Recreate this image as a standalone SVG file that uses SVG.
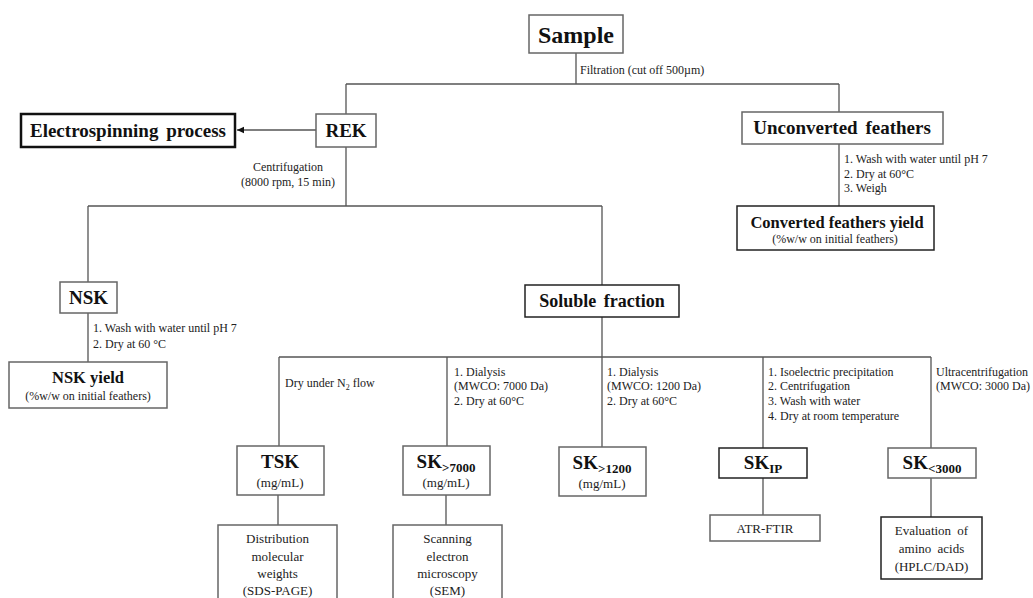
<svg xmlns="http://www.w3.org/2000/svg" width="1033" height="598" viewBox="0 0 1033 598">
<defs>
<style>
.bx{fill:#fff;stroke:#666;stroke-width:1.5}
.bk{fill:#fff;stroke:#222;stroke-width:1.5}
.ln{stroke:#555;stroke-width:1.3;fill:none}
.t{font-family:"Liberation Serif","Times New Roman",serif;fill:#222}
.b{font-weight:bold;fill:#111}
.s{font-size:12px}
.m{font-size:13px}
.c{text-anchor:middle}
</style>
<marker id="ah" markerWidth="8" markerHeight="8" refX="7" refY="4" orient="auto" markerUnits="userSpaceOnUse">
<path d="M0,0.8 L7,4 L0,7.2 Z" fill="#111"/>
</marker>
</defs>
<rect width="1033" height="598" fill="#fff"/>

<g id="connectors">
<path class="ln" d="M576,53 V84 M346,84 H839 M346,84 V114 M839,84 V112 M839,144 V206"/>
<path class="ln" d="M316,130 H237" marker-end="url(#ah)"/>
<path class="ln" d="M346,147 V206 M88,206 H602 M88,206 V282 M88,313 V362 M602,206 V285 M602,317 V357"/>
<path class="ln" d="M279,357 H931 M279,357 V446 M447,357 V446 M602,357 V447 M763,357 V448 M931,357 V448"/>
<path class="ln" d="M278,495 V525 M446,495 V525 M763,478 V515 M931,478 V517"/>
<text class="t s" x="580" y="74">Filtration (cut off 500µm)</text>
<text class="t s c" x="288" y="171">Centrifugation</text>
<text class="t s c" x="288" y="186">(8000 rpm, 15 min)</text>
<text class="t s" x="844" y="163">1. Wash with water until pH 7</text>
<text class="t s" x="844" y="178">2. Dry at 60°C</text>
<text class="t s" x="844" y="192">3. Weigh</text>
<text class="t s" x="93" y="332">1. Wash with water until pH 7</text>
<text class="t s" x="93" y="348">2. Dry at 60 °C</text>
<text class="t s" x="285" y="387">Dry under N<tspan font-size="8" dy="3">2</tspan><tspan dy="-3"> flow</tspan></text>
<text class="t s" x="454" y="376">1. Dialysis</text>
<text class="t s" x="454" y="390">(MWCO: 7000 Da)</text>
<text class="t s" x="454" y="405">2. Dry at 60°C</text>
<text class="t s" x="607" y="376">1. Dialysis</text>
<text class="t s" x="607" y="390">(MWCO: 1200 Da)</text>
<text class="t s" x="607" y="405">2. Dry at 60°C</text>
<text class="t s" x="768" y="376">1. Isoelectric precipitation</text>
<text class="t s" x="768" y="390">2. Centrifugation</text>
<text class="t s" x="768" y="405">3. Wash with water</text>
<text class="t s" x="768" y="420">4. Dry at room temperature</text>
<text class="t s" x="936" y="376">Ultracentrifugation</text>
<text class="t s" x="936" y="390">(MWCO: 3000 Da)</text>
</g>

<g id="sample">
<rect class="bx" x="529" y="15" width="94" height="38"/>
<text class="t b c" x="576" y="43" font-size="24">Sample</text>
</g>
<g id="rek">
<rect class="bx" x="316" y="114" width="60" height="33"/>
<text class="t b c" x="346" y="137" font-size="19">REK</text>
</g>
<g id="electrospinning">
<rect x="21" y="114" width="214" height="33" fill="#fff" stroke="#111" stroke-width="2.5"/>
<text class="t b c" x="128" y="137" font-size="19" word-spacing="3">Electrospinning process</text>
</g>
<g id="unconverted">
<rect class="bx" x="742" y="112" width="201" height="32"/>
<text class="t b c" x="842" y="134" font-size="19" word-spacing="3">Unconverted feathers</text>
</g>
<g id="converted-yield">
<rect class="bk" x="737" y="206" width="197" height="44"/>
<text class="t b c" x="837" y="228" font-size="16.5">Converted feathers yield</text>
<text class="t s c" x="835" y="243">(%w/w on initial  feathers)</text>
</g>
<g id="nsk">
<rect class="bx" x="60" y="282" width="57" height="31"/>
<text class="t b c" x="88.5" y="304" font-size="19">NSK</text>
</g>
<g id="nsk-yield">
<rect class="bx" x="9" y="362" width="158" height="46"/>
<text class="t b c" x="88" y="383" font-size="16.5">NSK yield</text>
<text class="t s c" x="88" y="400">(%w/w on initial  feathers)</text>
</g>
<g id="soluble">
<rect class="bk" x="525" y="285" width="154" height="32"/>
<text class="t b c" x="602" y="307" font-size="18" word-spacing="3">Soluble fraction</text>
</g>
<g id="tsk">
<rect class="bx" x="237" y="446" width="87" height="49"/>
<text class="t b c" x="280" y="468" font-size="19">TSK</text>
<text class="t m c" x="280" y="487">(mg/mL)</text>
</g>
<g id="sk7000">
<rect class="bx" x="403" y="446" width="87" height="49"/>
<text class="t b c" x="446" y="468" font-size="19">SK<tspan font-size="13" dy="4">&gt;7000</tspan></text>
<text class="t m c" x="446" y="487">(mg/mL)</text>
</g>
<g id="sk1200">
<rect class="bx" x="559" y="447" width="87" height="49"/>
<text class="t b c" x="602" y="469" font-size="19">SK<tspan font-size="13" dy="4">&gt;1200</tspan></text>
<text class="t m c" x="602" y="488">(mg/mL)</text>
</g>
<g id="skip">
<rect class="bk" x="719" y="448" width="88" height="30"/>
<text class="t b c" x="763" y="469" font-size="19">SK<tspan font-size="13" dy="4">IP</tspan></text>
</g>
<g id="sk3000">
<rect class="bx" x="888" y="448" width="88" height="30"/>
<text class="t b c" x="932" y="469" font-size="19">SK<tspan font-size="13" dy="4">&lt;3000</tspan></text>
</g>
<g id="distribution">
<rect class="bx" x="218" y="525" width="119" height="80"/>
<text class="t m c" x="277.5" y="543">Distribution</text>
<text class="t m c" x="277.5" y="561">molecular</text>
<text class="t m c" x="277.5" y="578">weights</text>
<text class="t m c" x="277.5" y="595">(SDS-PAGE)</text>
</g>
<g id="sem">
<rect class="bx" x="393" y="525" width="109" height="80"/>
<text class="t m c" x="447.5" y="543">Scanning</text>
<text class="t m c" x="447.5" y="561">electron</text>
<text class="t m c" x="447.5" y="578">microscopy</text>
<text class="t m c" x="447.5" y="595">(SEM)</text>
</g>
<g id="atr-ftir">
<rect class="bx" x="710" y="515" width="110" height="26"/>
<text class="t m c" x="765" y="533">ATR-FTIR</text>
</g>
<g id="amino">
<rect class="bk" x="881" y="517" width="101" height="62"/>
<text class="t m c" x="931.5" y="535" word-spacing="3">Evaluation of</text>
<text class="t m c" x="931.5" y="553" word-spacing="3">amino acids</text>
<text class="t m c" x="931.5" y="571">(HPLC/DAD)</text>
</g>
</svg>
